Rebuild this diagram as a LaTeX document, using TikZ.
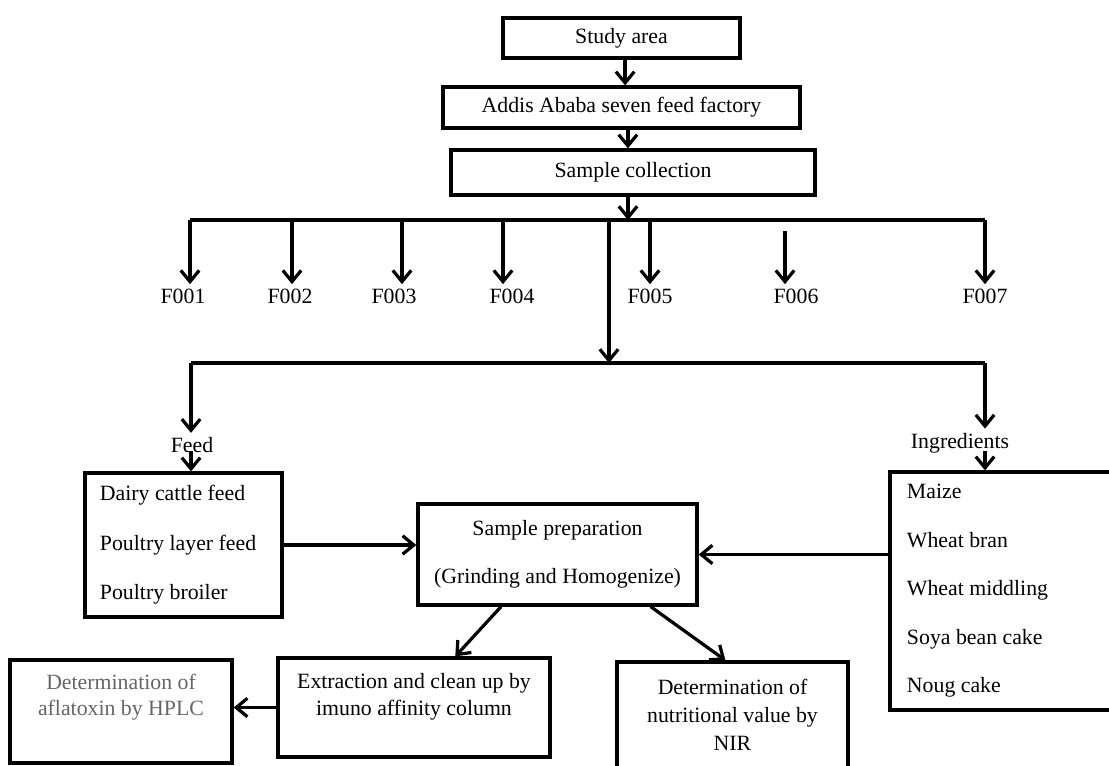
\documentclass[tikz,border=0pt]{standalone}
\usepackage{fontspec}
\setmainfont{Liberation Serif}
\usetikzlibrary{arrows.meta,calc}
\begin{document}
\begin{tikzpicture}[x=0.025cm,y=-0.025cm,
  box/.style={draw, line width=2.3pt, rectangle, inner sep=0pt},
  txt/.style={font=\fontsize{15.5}{18.5}\selectfont, inner sep=1pt},
  lab/.style={font=\fontsize{15.5}{18.5}\selectfont, inner sep=3pt},
  arr/.style={line width=2.3pt, -{Straight Barb[length=2.8mm,width=4.6mm]}},
  ln/.style={line width=2.3pt}]
\useasboundingbox (0,0) rectangle (1109,765);
\fill[white] (0,0) rectangle (1109,765);
\clip (0,0) rectangle (1109,765);

% top chain
\node[box, txt, minimum width=5.925cm, minimum height=1cm] (study) at (621.5,38) {Study area};
\node[box, txt, minimum width=8.925cm, minimum height=1.025cm] (addis) at (621.5,107.5) {Addis Ababa seven feed factory};
\node[box, txt, minimum width=9.1cm, minimum height=1.125cm] (coll) at (633,172.5) {Sample collection};
\draw[arr] ([xshift=0.09cm]study.south) -- ([xshift=0.09cm]study.south |- addis.north);
\draw[arr] ([xshift=0.16cm]addis.south) -- ([xshift=0.16cm]addis.south |- coll.north);

% first bus
\coordinate (b1L) at (190,220);
\coordinate (b1R) at (985,220);
\coordinate (b1in) at (628,220);
\coordinate (b1out) at (609,220);
\draw[ln] (b1L) -- (b1R);
\draw[arr] (coll.south -| b1in) -- (b1in);

\node[lab] (f1) at (183,296) {F001};
\node[lab] (f2) at (290,296) {F002};
\node[lab] (f3) at (394,296) {F003};
\node[lab] (f4) at (512,296) {F004};
\node[lab] (f5) at (650,296) {F005};
\node[lab] (f6) at (796,296) {F006};
\node[lab] (f7) at (985,296) {F007};
\coordinate (t2) at (292,220);
\coordinate (t3) at (402,220);
\coordinate (t4) at (503,220);
\coordinate (t5) at (650,220);
\coordinate (t6) at (785,231);
\draw[arr] (b1L) -- (b1L |- f1.north);
\draw[arr] (t2) -- (t2 |- f2.north);
\draw[arr] (t3) -- (t3 |- f3.north);
\draw[arr] (t4) -- (t4 |- f4.north);
\draw[arr] (t5) -- (t5 |- f5.north);
\draw[arr] (t6) -- (t6 |- f6.north);
\draw[arr] (b1R) -- (b1R |- f7.north);

% second bus
\coordinate (b2L) at (191,363);
\coordinate (b2R) at (985,363);
\coordinate (b2mid) at (609,363);
\draw[arr] (b1out) -- (b2mid);
\draw[ln] (b2L) -- (b2R);

% feed branch
\node[lab] (feedl) at (192,445) {Feed};
\node[box, font=\fontsize{15.5}{35.2}\selectfont, align=flush left, text width=4.175cm, inner xsep=0.375cm, minimum height=3.6cm] (feedbox) at (183.5,545) {Dairy cattle feed\\Poultry layer feed\\Poultry broiler};
\draw[arr] (b2L) -- (b2L |- feedl.north);
\draw[arr] ([yshift=0.15cm]feedl.south -| b2L) -- (b2L |- feedbox.north);

% ingredients branch
\node[lab] (ingl) at (960,443) {Ingredients};
\node[box, font=\fontsize{15.5}{34.5}\selectfont, align=flush left, text width=5.15cm, inner xsep=0.425cm, minimum height=5.95cm] (ingbox) at (1010,591) {Maize\\Wheat bran\\Wheat middling\\Soya bean cake\\Noug cake};
\draw[arr] (b2R) -- (b2R |- ingl.north);
\draw[arr] ([yshift=0.15cm]ingl.south -| b2R) -- (b2R |- ingbox.north);

% sample preparation
\node[box, font=\fontsize{15.5}{34.1}\selectfont, align=center, minimum width=6.975cm, minimum height=2.525cm] (prep) at (557.5,554.5) {Sample preparation\\(Grinding and Homogenize)};
\draw[arr] (feedbox.east) -- (feedbox.east -| prep.west);
\draw[arr] (ingbox.west |- prep.east) -- (prep.east);

% bottom boxes
\node[box, minimum width=5.55cm, minimum height=2.575cm] (hplc) at (121,711.5) {};
\node[txt, text=black!60, align=center, font=\fontsize{15.5}{18.5}\selectfont] (hplct) at ($(hplc.north)+(0,39)$) {Determination of\\aflatoxin by HPLC};
\node[box, minimum width=6.8cm, minimum height=2.475cm] (extr) at (414,707.5) {};
\node[txt, align=center, font=\fontsize{15.5}{19.2}\selectfont] (extrt) at ($(extr.north)+(0,40.5)$) {Extraction and clean up by\\imuno affinity column};
\node[box, minimum width=5.775cm, minimum height=2.95cm] (nir) at (732.5,721) {};
\node[txt, align=center, font=\fontsize{15.5}{19.9}\selectfont] (nirt) at ($(nir.north)+(0,54)$) {Determination of\\nutritional value by\\NIR};

\draw[arr] ($(prep.south west)!0.3!(prep.south east)$) -- ($(extr.north west)!0.65!(extr.north east)$);
\draw[arr] ($(prep.south west)!0.83!(prep.south east)$) -- ($(nir.north west)!0.47!(nir.north east)$);
\draw[arr] (extr.west) -- (extr.west -| hplc.east);
\end{tikzpicture}
\end{document}
